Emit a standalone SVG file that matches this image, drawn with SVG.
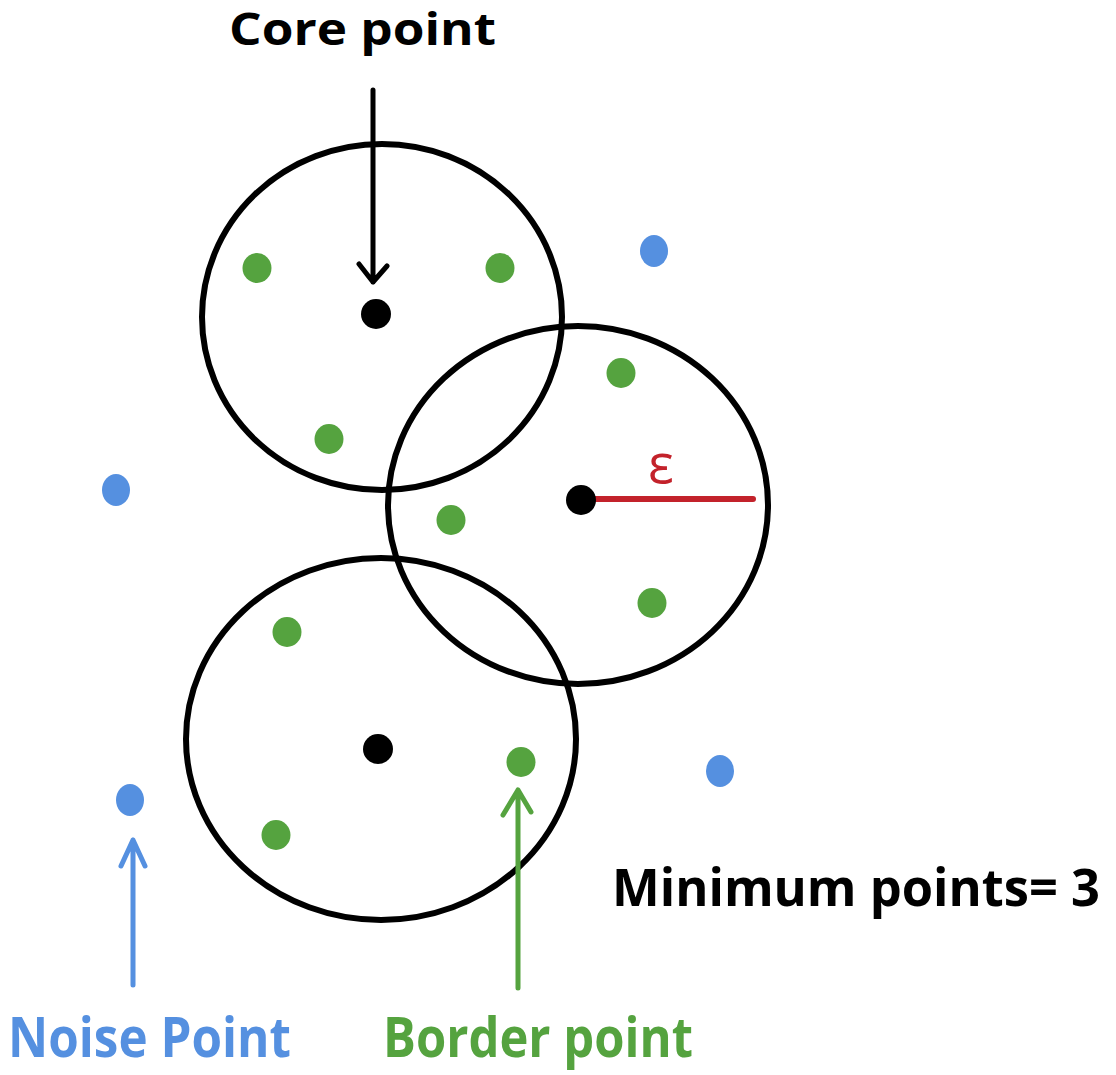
<svg xmlns="http://www.w3.org/2000/svg" width="1116" height="1075" viewBox="0 0 1116 1075">
<style>
.ring{fill:none;stroke:#000;stroke-width:6}
.core{fill:#000}
.border{fill:#55a33f}
.noise{fill:#5590e0}
.lbl{font-family:"Open Sans","Liberation Sans",sans-serif;font-weight:bold}
.arr{fill:none;stroke-width:5;stroke-linecap:round;stroke-linejoin:round}
</style>
<rect width="1116" height="1075" fill="#fff"/>
<g id="neighborhoods">
<ellipse id="ring-top" class="ring" cx="382" cy="317" rx="180" ry="173"/>
<ellipse id="ring-right" class="ring" cx="578" cy="505" rx="190" ry="179"/>
<ellipse id="ring-bottom" class="ring" cx="381" cy="739" rx="195" ry="181"/>
</g>
<g id="epsilon">
<line x1="590" y1="499" x2="753" y2="499" stroke="#c3222b" stroke-width="6" stroke-linecap="round"/>
<text x="661" y="483" text-anchor="middle" font-family="'Open Sans','Liberation Sans',sans-serif" font-size="54" fill="#c3222b">ε</text>
</g>
<g id="core-points">
<circle class="core" cx="376" cy="314" r="15"/>
<circle class="core" cx="581" cy="500" r="15"/>
<circle class="core" cx="378" cy="749" r="15"/>
</g>
<g id="border-points">
<ellipse class="border" cx="257" cy="268" rx="14.5" ry="15"/>
<ellipse class="border" cx="500" cy="268" rx="14.5" ry="15"/>
<ellipse class="border" cx="329" cy="439" rx="14.5" ry="15"/>
<ellipse class="border" cx="621" cy="373" rx="14.5" ry="15"/>
<ellipse class="border" cx="451" cy="520" rx="14.5" ry="15"/>
<ellipse class="border" cx="652" cy="603" rx="14.5" ry="15"/>
<ellipse class="border" cx="287" cy="632" rx="14.5" ry="15"/>
<ellipse class="border" cx="521" cy="762" rx="14.5" ry="15"/>
<ellipse class="border" cx="276" cy="835" rx="14.5" ry="15"/>
</g>
<g id="noise-points">
<ellipse class="noise" cx="654" cy="251" rx="14" ry="16"/>
<ellipse class="noise" cx="116" cy="490" rx="14" ry="16"/>
<ellipse class="noise" cx="130" cy="800" rx="14" ry="16"/>
<ellipse class="noise" cx="720" cy="771" rx="14" ry="16"/>
</g>
<g id="connectors">
<path class="arr" stroke="#000" d="M373 90 V282 M359 264 L373 282 L387 266"/>
<path class="arr" stroke="#5590e0" d="M133 985 V840 M121 866 L133 840 L145 866"/>
<path class="arr" stroke="#55a33f" d="M518 988 V790 M503 815 L518 790 L531 812"/>
</g>
<g id="labels">
<text class="lbl" x="229" y="45" font-size="44" textLength="267" lengthAdjust="spacingAndGlyphs" fill="#000">Core point</text>
<text class="lbl" x="612" y="906" font-size="52" textLength="488" lengthAdjust="spacingAndGlyphs" fill="#000">Minimum points= 3</text>
<text class="lbl" x="8" y="1057" font-size="56" textLength="283" lengthAdjust="spacingAndGlyphs" fill="#5590e0">Noise Point</text>
<text class="lbl" x="383" y="1057" font-size="56" textLength="310" lengthAdjust="spacingAndGlyphs" fill="#55a33f">Border point</text>
</g>
</svg>
